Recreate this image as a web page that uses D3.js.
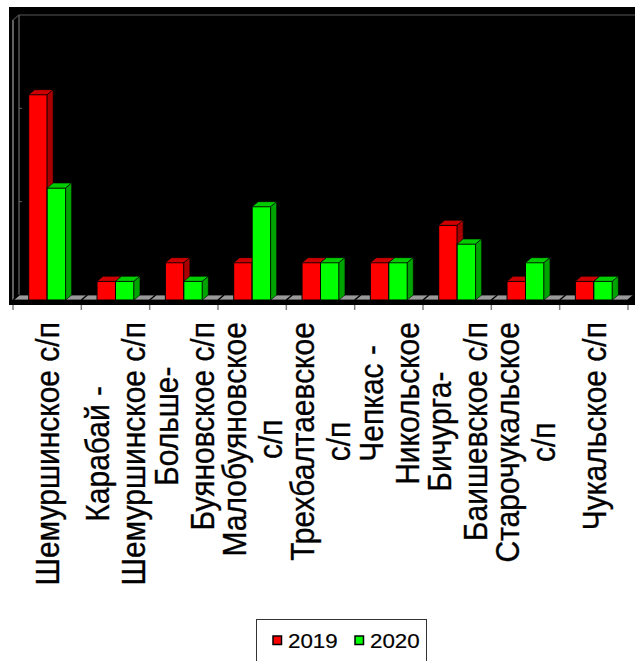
<!DOCTYPE html>
<html>
<head>
<meta charset="utf-8">
<script src="https://cdn.jsdelivr.net/npm/d3@7"></script>
<style>
  body { margin: 0; background: #fff; }
  svg { display: block; }
  text { font-family: "Liberation Sans", Arial, sans-serif; fill: #000; }
</style>
</head>
<body>
<div id="chart"></div>
<script>
'use strict';

const categories = [
  'Шемуршинское с/п',
  'Карабай - Шемуршинское с/п',
  'Больше-Буяновское с/п',
  'Малобуяновское с/п',
  'Трехбалтаевское с/п',
  'Чепкас - Никольское',
  'Бичурга-Баишевское с/п',
  'Старочукальское с/п',
  'Чукальское с/п'
];
const tickLabels = [
  ['Шемуршинское с/п'],
  ['Карабай -', 'Шемуршинское с/п'],
  ['Больше-', 'Буяновское с/п'],
  ['Малобуяновское', 'с/п'],
  ['Трехбалтаевское', 'с/п'],
  ['Чепкас -', 'Никольское'],
  ['Бичурга-', 'Баишевское с/п'],
  ['Старочукальское', 'с/п'],
  ['Чукальское с/п']
];
const seriesNames = ['2019', '2020'];
const values2019 = [11, 1, 2, 2, 2, 2, 4, 1, 1];
const values2020 = [6, 1, 1, 5, 2, 2, 3, 2, 1];
const yTicks = [0, 5, 10, 15];

const seriesValues = [values2019, values2020];
const colors = {
  '2019': { front: '#ff0000', top: '#cc0000', side: '#a80000' },
  '2020': { front: '#00ff00', top: '#00cc00', side: '#00a400' }
};

const width = 635;
const height = 661;
const floorY = 300;
const depth = { dx: 6, dy: -5 };
// the reference is a little stretched horizontally
const stretch = 1.09;

const svg = d3.select('#chart').append('svg')
  .attr('width', width)
  .attr('height', height);

const x0 = d3.scaleBand()
  .domain(categories)
  .range([13, 628]);

const x1 = d3.scaleBand()
  .domain(seriesNames)
  .range([0, x0.bandwidth()])
  .paddingInner(0)
  .paddingOuter(0.85);

const y = d3.scaleLinear()
  .domain([0, d3.max(yTicks)])
  .range([floorY, 20]);

// plot area background
svg.append('rect')
  .attr('x', 9)
  .attr('y', 7)
  .attr('width', width - 9)
  .attr('height', 298)
  .attr('fill', '#000');

// walls
const yTop = y(d3.max(yTicks));
const wallX = x0.range()[0];
svg.append('line')
  .attr('x1', wallX).attr('y1', yTop)
  .attr('x2', wallX).attr('y2', floorY)
  .attr('stroke', '#808080').attr('stroke-width', 1.5);
svg.append('path')
  .attr('d', `M${wallX},${yTop} L${wallX + depth.dx},${yTop + depth.dy} L${width},${yTop + depth.dy}`)
  .attr('fill', 'none')
  .attr('stroke', '#3a3a3a')
  .attr('stroke-width', 1.5);
svg.append('line')
  .attr('x1', wallX + depth.dx).attr('y1', yTop + depth.dy)
  .attr('x2', wallX + depth.dx).attr('y2', floorY + depth.dy)
  .attr('stroke', '#555').attr('stroke-width', 1.5);

svg.append('g')
  .selectAll('line')
  .data(yTicks.filter(function (d) { return d > 0 && d < d3.max(yTicks); }))
  .enter().append('line')
    .attr('x1', wallX + depth.dx)
    .attr('x2', wallX + depth.dx + 3)
    .attr('y1', function (d) { return y(d) + depth.dy; })
    .attr('y2', function (d) { return y(d) + depth.dy; })
    .attr('stroke', '#666');

// floor
const xEnd = x0.range()[1];
svg.append('path')
  .attr('d', `M${wallX},${floorY} L${xEnd},${floorY} L${xEnd + depth.dx},${floorY + depth.dy} L${wallX + depth.dx},${floorY + depth.dy} Z`)
  .attr('fill', '#9a9a9a')
  .attr('stroke', '#000')
  .attr('stroke-width', 0.8);

const boundaries = categories.map(function (c) { return x0(c); }).concat([xEnd]);
svg.append('g')
  .selectAll('line')
  .data(boundaries)
  .enter().append('line')
    .attr('x1', function (d) { return d; })
    .attr('y1', floorY)
    .attr('x2', function (d) { return d + depth.dx; })
    .attr('y2', floorY + depth.dy)
    .attr('stroke', '#000')
    .attr('stroke-width', 1.5);

// bars
const barData = [];
categories.forEach(function (c, i) {
  seriesNames.forEach(function (s, j) {
    barData.push({ category: c, series: s, value: seriesValues[j][i] });
  });
});

const bar = svg.append('g')
  .selectAll('.bar3d')
  .data(barData)
  .enter().append('g')
    .attr('class', 'bar3d');

bar.each(function (d) {
  const g = d3.select(this);
  const bx = x0(d.category) + x1(d.series);
  const bw = x1.bandwidth();
  const by = y(d.value);
  const c = colors[d.series];
  g.append('rect')
    .attr('x', bx)
    .attr('y', by)
    .attr('width', bw)
    .attr('height', floorY - by)
    .attr('fill', c.front)
    .attr('stroke', '#000')
    .attr('stroke-width', 1);
  g.append('path')
    .attr('d', `M${bx},${by} L${bx + depth.dx},${by + depth.dy} L${bx + bw + depth.dx},${by + depth.dy} L${bx + bw},${by} Z`)
    .attr('fill', c.top)
    .attr('stroke', '#000')
    .attr('stroke-width', 0.6);
  g.append('path')
    .attr('d', `M${bx + bw},${by} L${bx + bw + depth.dx},${by + depth.dy} L${bx + bw + depth.dx},${floorY + depth.dy} L${bx + bw},${floorY} Z`)
    .attr('fill', c.side)
    .attr('stroke', '#000')
    .attr('stroke-width', 0.6);
});

// category axis ticks
svg.append('g')
  .selectAll('line')
  .data(boundaries)
  .enter().append('line')
    .attr('x1', function (d) { return d; })
    .attr('x2', function (d) { return d; })
    .attr('y1', 305)
    .attr('y2', 310)
    .attr('stroke', '#808080')
    .attr('stroke-width', 1.5);

// rotated category labels
const fontSize = 30;
const lineHeight = 36;
const labelTop = 322;

const labels = svg.append('g')
  .selectAll('text')
  .data(categories)
  .enter().append('text')
    .attr('font-size', fontSize)
    .attr('text-anchor', 'middle')
    .attr('stroke', '#000')
    .attr('stroke-width', 0.3);

labels.each(function (c, i) {
  const lines = tickLabels[i];
  const t = d3.select(this);
  const spans = lines.map(function (line) {
    return t.append('tspan').text(line);
  });
  const maxLen = d3.max(spans, function (s) { return s.node().getComputedTextLength(); });
  const cx = x0(c) + x0.bandwidth() / 2;
  const cy = labelTop + maxLen / 2;
  const step = lineHeight / stretch;
  const first = -(lines.length - 1) * step / 2 + fontSize * 0.36;
  spans.forEach(function (s, k) {
    s.attr('x', 0).attr('y', first + k * step);
  });
  t.attr('transform', `translate(${cx}, ${cy}) rotate(-90) scale(1, ${stretch})`);
});

// legend
const legend = svg.append('g')
  .attr('transform', 'translate(256.5, 619.5)');

legend.append('rect')
  .attr('width', 170)
  .attr('height', 60)
  .attr('fill', '#fff')
  .attr('stroke', '#333')
  .attr('stroke-width', 1);

const legendX = [16.5, 98.5];
const item = legend.selectAll('.legend-item')
  .data(seriesNames)
  .enter().append('g')
    .attr('class', 'legend-item')
    .attr('transform', function (d, i) { return `translate(${legendX[i]}, 0)`; });

item.append('rect')
  .attr('x', 0)
  .attr('y', 16.5)
  .attr('width', 8.5)
  .attr('height', 8.5)
  .attr('fill', function (d) { return colors[d].front; })
  .attr('stroke', '#000')
  .attr('stroke-width', 1.5);

item.append('text')
  .attr('transform', `translate(15, 28.8) scale(${stretch}, 1)`)
  .attr('font-size', 20.5)
  .attr('stroke', '#000')
  .attr('stroke-width', 0.2)
  .text(function (d) { return d; });
</script>
</body>
</html>
